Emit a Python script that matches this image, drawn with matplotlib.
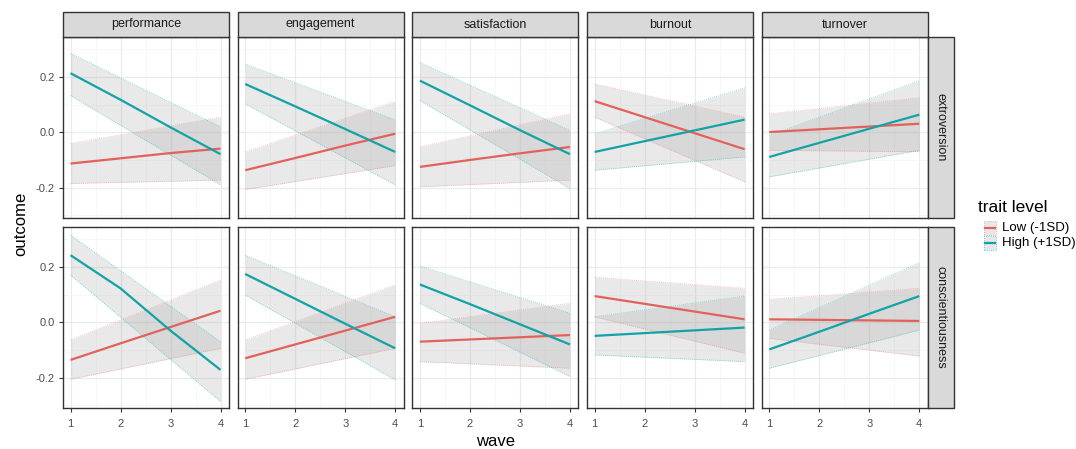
import matplotlib
matplotlib.use("Agg")
import matplotlib.pyplot as plt
from matplotlib.patches import Rectangle
from matplotlib.lines import Line2D

plt.rcParams['font.family'] = ['Liberation Sans', 'DejaVu Sans']

# ---------------- data ----------------
waves = [1, 2, 3, 4]
ribbon_waves = [1, 4]
outcomes = ['performance', 'engagement', 'satisfaction', 'burnout', 'turnover']
traits = ['extroversion', 'conscientiousness']
levels = ['Low (-1SD)', 'High (+1SD)']

# fitted values, one row per outcome, columns = waves 1..4
ext_low_fit = [[-0.113, -0.094, -0.075, -0.059],
               [-0.137, -0.093, -0.048, -0.005],
               [-0.125, -0.100, -0.076, -0.053],
               [0.113, 0.055, -0.003, -0.061],
               [0.001, 0.011, 0.021, 0.031]]
ext_high_fit = [[0.214, 0.118, 0.018, -0.079],
                [0.175, 0.094, 0.012, -0.071],
                [0.187, 0.098, 0.008, -0.079],
                [-0.071, -0.032, 0.007, 0.046],
                [-0.089, -0.038, 0.013, 0.064]]
con_low_fit = [[-0.136, -0.076, -0.017, 0.042],
               [-0.130, -0.080, -0.030, 0.020],
               [-0.070, -0.062, -0.054, -0.046],
               [0.095, 0.067, 0.039, 0.011],
               [0.011, 0.009, 0.007, 0.005]]
con_high_fit = [[0.243, 0.123, -0.030, -0.172],
                [0.175, 0.085, -0.005, -0.094],
                [0.137, 0.066, -0.007, -0.080],
                [-0.049, -0.039, -0.029, -0.019],
                [-0.098, -0.034, 0.031, 0.095]]

# confidence band: lower / upper at waves 1 and 4
ext_low_lo = [[-0.185, -0.173], [-0.207, -0.120], [-0.197, -0.173], [0.055, -0.179], [-0.065, -0.070]]
ext_low_hi = [[-0.041, 0.055], [-0.071, 0.112], [-0.053, 0.067], [0.175, 0.055], [0.067, 0.125]]
ext_high_lo = [[0.133, -0.190], [0.103, -0.190], [0.115, -0.203], [-0.137, -0.089], [-0.161, -0.065]]
ext_high_hi = [[0.286, 0.020], [0.247, 0.045], [0.253, 0.007], [-0.005, 0.161], [-0.011, 0.187]]
con_low_lo = [[-0.206, -0.094], [-0.206, -0.094], [-0.142, -0.166], [0.020, -0.112], [-0.058, -0.122]]
con_low_hi = [[-0.064, 0.153], [-0.064, 0.135], [-0.004, 0.069], [0.163, 0.123], [0.083, 0.123]]
con_high_lo = [[0.171, -0.287], [0.099, -0.208], [0.069, -0.196], [-0.118, -0.142], [-0.166, -0.028]]
con_high_hi = [[0.316, -0.070], [0.243, 0.020], [0.204, 0.033], [0.020, 0.095], [-0.028, 0.216]]

fits = {('extroversion', 0): ext_low_fit, ('extroversion', 1): ext_high_fit,
        ('conscientiousness', 0): con_low_fit, ('conscientiousness', 1): con_high_fit}
los = {('extroversion', 0): ext_low_lo, ('extroversion', 1): ext_high_lo,
       ('conscientiousness', 0): con_low_lo, ('conscientiousness', 1): con_high_lo}
his = {('extroversion', 0): ext_low_hi, ('extroversion', 1): ext_high_hi,
       ('conscientiousness', 0): con_low_hi, ('conscientiousness', 1): con_high_hi}

colors = ['#E2625B', '#13A2A6']
ribbon_edge = ['#F8766D', '#00BFC4']

# ---------------- layout ----------------
W, H = 1076, 449
fig = plt.figure(figsize=(W / 100, H / 100), dpi=100)

def fx(px):
    return px / W

def fy(py):
    return 1 - py / H

left0 = 63
pw = 166
gap = 8.7
row_tops = [37, 227]
ph = 181
strip_h = 25
rstrip_w = 26
border = '#333333'

for r, trait in enumerate(traits):
    for c, outc in enumerate(outcomes):
        x0 = left0 + c * (pw + gap)
        y0 = row_tops[r]
        ax = fig.add_axes([fx(x0), fy(y0 + ph), pw / W, ph / H])
        ax.set_xlim(0.85, 4.17)
        ax.set_ylim(-0.31, 0.345)
        ax.set_xticks([1, 2, 3, 4])
        ax.set_yticks([-0.2, 0.0, 0.2])
        ax.set_xticks([1.5, 2.5, 3.5], minor=True)
        ax.set_yticks([-0.3, -0.1, 0.1, 0.3], minor=True)
        ax.grid(True, which='major', color='#EBEBEB', lw=0.9)
        ax.grid(True, which='minor', color='#F4F4F4', lw=0.5)
        ax.set_axisbelow(True)
        for s in ax.spines.values():
            s.set_color(border)
            s.set_linewidth(1.0)
        ax.tick_params(which='minor', length=0)
        ax.tick_params(which='major', length=3, width=0.8, color=border,
                       labelsize=8, labelcolor='#4D4D4D', pad=3)
        ax.tick_params(axis='x', pad=5)
        if c != 0:
            ax.tick_params(axis='y', length=0, labelleft=False)
        else:
            ax.set_yticklabels(['-0.2', '0.0', '0.2'])
        if r != 1:
            ax.tick_params(axis='x', length=0, labelbottom=False)

        for li in range(2):
            key = (trait, li)
            lo = los[key][c]
            hi = his[key][c]
            ax.fill_between(ribbon_waves, lo, hi, color='#A8A8A8', alpha=0.25, lw=0, zorder=2)
            ax.plot(ribbon_waves, lo, ls=(0, (1, 1.5)), color=ribbon_edge[li], lw=0.6, alpha=0.6, zorder=3)
            ax.plot(ribbon_waves, hi, ls=(0, (1, 1.5)), color=ribbon_edge[li], lw=0.6, alpha=0.6, zorder=3)
        for li in range(2):
            key = (trait, li)
            ax.plot(waves, fits[key][c], color=colors[li], lw=1.6, zorder=4,
                    solid_capstyle='butt')

        # top strips
        if r == 0:
            fig.patches.append(Rectangle((fx(x0), fy(y0)), pw / W, strip_h / H,
                                         transform=fig.transFigure, facecolor='#D9D9D9',
                                         edgecolor=border, lw=1.0))
            fig.text(fx(x0 + pw / 2), fy(y0 - strip_h / 2), outc, ha='center', va='center',
                     fontsize=9, color='#1A1A1A')
    # right strips
    xr = left0 + 4 * (pw + gap) + pw
    y0 = row_tops[r]
    fig.patches.append(Rectangle((fx(xr), fy(y0 + ph)), rstrip_w / W, ph / H,
                                 transform=fig.transFigure, facecolor='#D9D9D9',
                                 edgecolor=border, lw=1.0))
    fig.text(fx(xr + rstrip_w / 2), fy(y0 + ph / 2), trait, ha='center', va='center',
             rotation=-90, fontsize=9, color='#1A1A1A')

# axis titles
fig.text(fx(left0 + (5 * pw + 4 * gap) / 2), fy(441), 'wave', ha='center', va='center',
         fontsize=12, color='#000000')
fig.text(fx(21), fy(224), 'outcome', ha='center', va='center', rotation=90,
         fontsize=12, color='#000000')

# legend (drawn manually, ggplot style)
fig.text(fx(978), fy(207), 'trait level', ha='left', va='center', fontsize=12.5, color='#000000')
key_x, key_w, key_h = 984, 12, 14
for li, lab in enumerate(levels):
    yc = 228 + li * 15
    fig.patches.append(Rectangle((fx(key_x), fy(yc + key_h / 2)), key_w / W, key_h / H,
                                 transform=fig.transFigure, facecolor='#E2E2E2',
                                 edgecolor=ribbon_edge[li], linestyle=':', lw=0.6, alpha=0.8))
    fig.lines.append(Line2D([fx(key_x + 1), fx(key_x + key_w - 1)], [fy(yc), fy(yc)],
                            transform=fig.transFigure, color=colors[li], lw=1.6))
    fig.text(fx(1002), fy(yc), lab, ha='left', va='center', fontsize=9.5, color='#000000')

fig.savefig('out.png', dpi=100, facecolor='white')
